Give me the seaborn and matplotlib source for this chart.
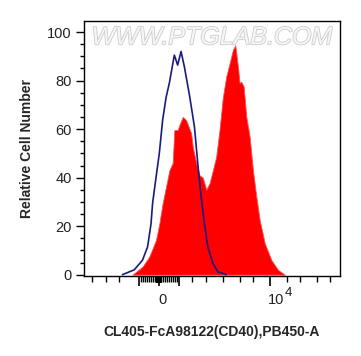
import numpy as np
import pandas as pd
import matplotlib
matplotlib.use("Agg")
import matplotlib.pyplot as plt
import matplotlib.patheffects as pe
from matplotlib.patches import Rectangle
import seaborn as sns

# x in display units: 0 -> "0", 1 -> "10^4" (biexponential-like axis)
blue_x = [-0.334, -0.227, -0.152, -0.106, -0.075, -0.061, -0.030, 0.0, 0.030,
          0.061, 0.091, 0.136, 0.166, 0.197, 0.227, 0.273, 0.318, 0.348,
          0.379, 0.409, 0.439, 0.485, 0.530, 0.606]
blue_y = [0, 2, 6, 11.5, 21, 29.4, 40, 50, 63.7, 73, 79, 90.5, 86.4, 92,
          85.7, 74, 61, 46, 32, 21, 11.5, 4.7, 1.2, 0]

red_x = [-0.243, -0.152, -0.091, -0.030, 0.0, 0.030, 0.061, 0.091, 0.121,
         0.136, 0.166, 0.182, 0.212, 0.243, 0.288, 0.303, 0.334, 0.364,
         0.394, 0.425, 0.455, 0.485, 0.515, 0.545, 0.575, 0.606, 0.636,
         0.666, 0.688, 0.712, 0.727, 0.743, 0.764, 0.788, 0.818, 0.848,
         0.879, 0.909, 0.955, 1.015, 1.075, 1.136]
red_y = [0, 3.3, 7.4, 14.3, 21, 29.4, 36.3, 43, 46, 59.6, 59.6, 61.7, 65,
         63.7, 58.3, 52.7, 46, 41, 40, 35, 37.7, 43, 48.6, 59.6, 73, 81.6,
         87, 92.6, 94.6, 85.7, 79, 79.5, 77.5, 65, 56.9, 43, 32, 22.5, 12.9,
         6, 2, 0]

x_major = [-0.182, 0.0, 0.182, 1.0]
x_minor = ([-0.609, -0.482, -0.364, 0.3, 0.427, 0.573, 0.727, 0.845,
            1.155, 1.273, 1.427, 1.545]
           + list(np.linspace(-0.164, -0.018, 9)) + list(np.linspace(0.018, 0.164, 9)))

sns.set_style("ticks")
plt.rcParams["font.family"] = ["Liberation Sans", "DejaVu Sans"]

fig = plt.figure(figsize=(3.61, 3.56), dpi=100)
ax = fig.add_axes([0.2327, 0.2247, 0.709, 0.7172])

red_df = pd.DataFrame({"x": red_x, "y": red_y})
blue_df = pd.DataFrame({"x": blue_x, "y": blue_y})

ax.fill_between(red_df["x"], red_df["y"], color="#ff0000", linewidth=0.6,
                edgecolor="#ff5050", zorder=2)
sns.lineplot(data=blue_df, x="x", y="y", color="#1a1a80", linewidth=1.2,
             ax=ax, zorder=3)

ax.set_xlim(-0.682, 1.636)
ax.set_ylim(-0.55, 104.7)

ax.set_yticks([0, 20, 40, 60, 80, 100])
ax.set_yticks(np.arange(0, 101, 5), minor=True)
ax.tick_params(axis="y", which="major", length=6, width=1, labelsize=10.5,
               pad=3, colors="black", labelcolor="#222222")
ax.tick_params(axis="y", which="minor", length=3, width=1, colors="black")

ax.set_xticks(x_major)
ax.set_xticklabels([])
ax.set_xticks(x_minor, minor=True)
ax.tick_params(axis="x", which="major", length=7, width=1.2, colors="black")
ax.tick_params(axis="x", which="minor", length=4, width=1, colors="black")

trans = ax.get_xaxis_transform()
# thick block just under zero
ax.add_patch(Rectangle((-0.03, -0.027), 0.055, 0.027, transform=trans,
                       facecolor="black", edgecolor="none", clip_on=False,
                       zorder=5))

ax.text(0.03, -0.108, "0", transform=trans, ha="center", va="baseline",
        fontsize=10.5, color="#222222")
ax.text(0.982, -0.108, "10", transform=trans, ha="left", va="baseline",
        fontsize=10.5, color="#222222")
ax.text(1.14, -0.08, "4", transform=trans, ha="left", va="baseline",
        fontsize=9.5, color="#222222")

for s in ax.spines.values():
    s.set_linewidth(1)
    s.set_color("black")

ax.set_xlabel("CL405-FcA98122(CD40),PB450-A", fontsize=10, fontweight="bold",
              labelpad=25)
ax.set_ylabel("Relative Cell Number", fontsize=10, fontweight="bold",
              labelpad=9)

ax.text(0.5, 0.935, "WWW.PTGLAB.COM", transform=ax.transAxes, ha="center",
        va="center", fontsize=18, style="italic", color="#f6f6f6",
        path_effects=[pe.withStroke(linewidth=1.2, foreground="#cccccc")],
        zorder=1)

fig.savefig("out.png", dpi=100)
